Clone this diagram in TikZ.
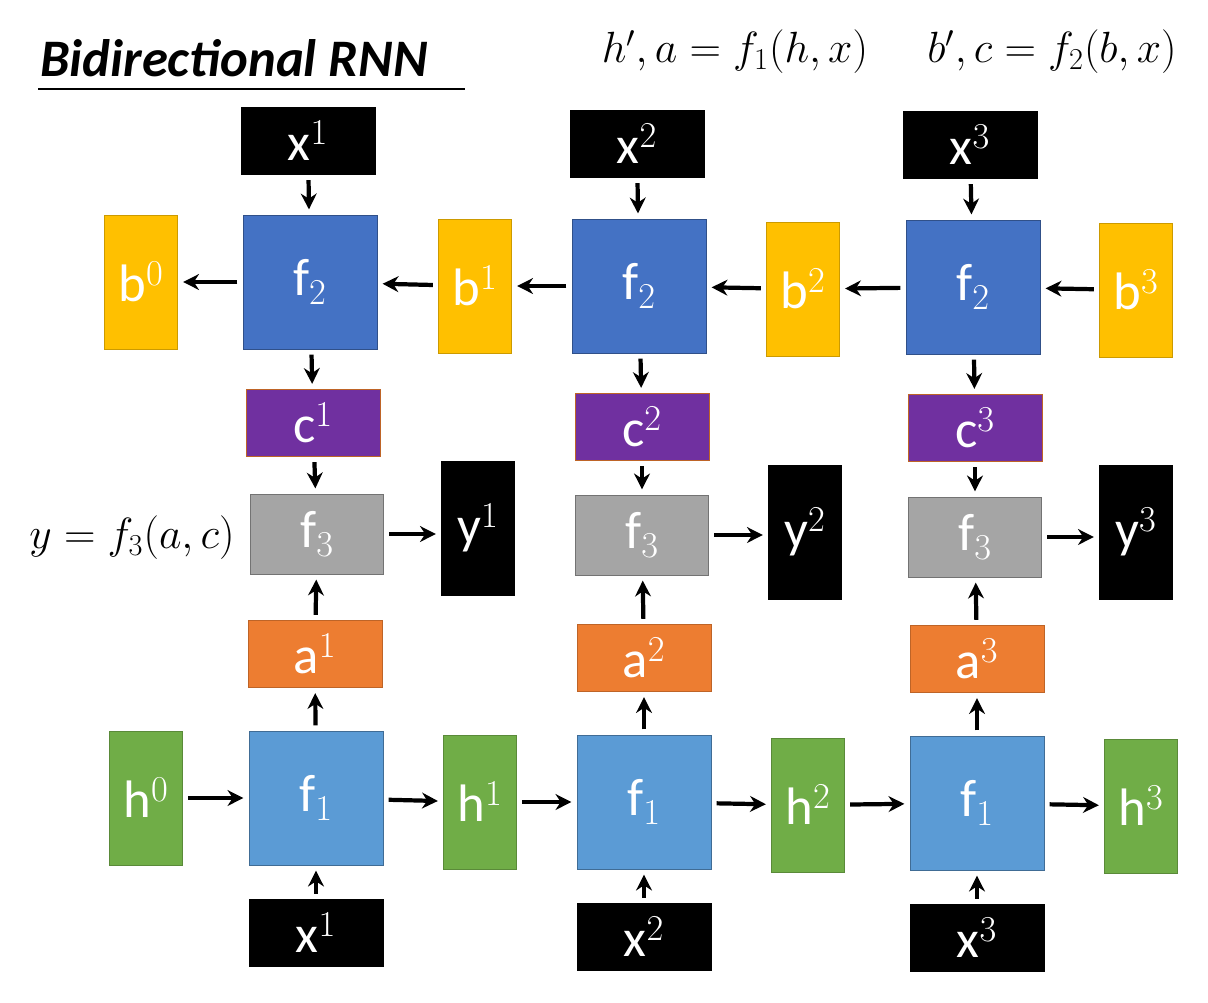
\documentclass[tikz,border=0pt]{standalone}
\usepackage{fontspec}
\setmainfont{Carlito}
\usepackage{amsmath}
\usepackage{tikz}
\usetikzlibrary{arrows.meta}
\definecolor{fblue}{HTML}{4472C4}
\definecolor{lblue}{HTML}{5B9BD5}
\definecolor{forange}{HTML}{ED7D31}
\definecolor{fpurple}{HTML}{7030A0}
\definecolor{fgray}{HTML}{A5A5A5}
\definecolor{fyellow}{HTML}{FFC000}
\definecolor{fgreen}{HTML}{70AD47}
\tikzset{box/.style={draw,text=white,inner sep=0pt,font=\fontsize{30}{36}\selectfont},
  big/.style={box,minimum width=2.68cm,minimum height=2.68cm},
  wide/.style={box,minimum width=2.68cm,minimum height=1.34cm},
  tall/.style={box,minimum width=1.46cm,minimum height=2.68cm},
  arr/.style={-{Stealth[length=9pt,width=9pt]},line width=2.4pt,shorten >=3pt,shorten <=3pt}}
\begin{document}
\begin{tikzpicture}[x=0.02cm,y=-0.02cm]
    \useasboundingbox (0,0) rectangle (1208,1002);
    % title and equations
    \node[anchor=west,font=\fontsize{30}{36}\selectfont\bfseries\itshape] (title) at (34,58) {Bidirectional RNN};
    \draw[line width=1.2pt] (38,89) -- (465,89);
    \node[font=\fontsize{24}{30}\selectfont] (eq1) at (735,52) {$h',a=f_1(h,x)$};
    \node[font=\fontsize{24}{30}\selectfont] (eq2) at (1052,52) {$b',c=f_2(b,x)$};
    \node[font=\fontsize{24}{30}\selectfont] (eq3) at (132,538) {$y=f_3(a,c)$};

    % backward layer
    \node[big,fill=fblue,draw=fblue!70!black] (fb1) at (310,282) {f$_2$};
    \node[big,fill=fblue,draw=fblue!70!black] (fb2) at (639,286) {f$_2$};
    \node[big,fill=fblue,draw=fblue!70!black] (fb3) at (973,287) {f$_2$};
    \node[wide,fill=black] (xt1) at (308,141) {x$^1$};
    \node[wide,fill=black] (xt2) at (637,144) {x$^2$};
    \node[wide,fill=black] (xt3) at (970,145) {x$^3$};
    \node[tall,fill=fyellow,draw=fyellow!80!black] (b0) at (141,282) {b$^0$};
    \node[tall,fill=fyellow,draw=fyellow!80!black] (b1) at (475,286) {b$^1$};
    \node[tall,fill=fyellow,draw=fyellow!80!black] (b2) at (803,289) {b$^2$};
    \node[tall,fill=fyellow,draw=fyellow!80!black] (b3) at (1136,290) {b$^3$};
    \node[wide,fill=fpurple,draw=forange!80!black] (c1) at (313,423) {c$^1$};
    \node[wide,fill=fpurple,draw=forange!80!black] (c2) at (642,427) {c$^2$};
    \node[wide,fill=fpurple,draw=forange!80!black] (c3) at (975,428) {c$^3$};

    % output layer
    \node[box,fill=fgray,draw=fgray!70!black,minimum width=2.66cm,minimum height=1.6cm] (f31) at (317,534) {f$_3$};
    \node[box,fill=fgray,draw=fgray!70!black,minimum width=2.66cm,minimum height=1.6cm] (f32) at (642,535) {f$_3$};
    \node[box,fill=fgray,draw=fgray!70!black,minimum width=2.66cm,minimum height=1.6cm] (f33) at (975,537) {f$_3$};
    \node[tall,fill=black] (y1) at (478,528) {y$^1$};
    \node[tall,fill=black] (y2) at (805,532) {y$^2$};
    \node[tall,fill=black] (y3) at (1136,532) {y$^3$};

    % forward layer
    \node[wide,fill=forange,draw=forange!80!black] (a1) at (315,654) {a$^1$};
    \node[wide,fill=forange,draw=forange!80!black] (a2) at (644,658) {a$^2$};
    \node[wide,fill=forange,draw=forange!80!black] (a3) at (977,659) {a$^3$};
    \node[big,fill=lblue,draw=lblue!70!black] (ff1) at (316,798) {f$_1$};
    \node[big,fill=lblue,draw=lblue!70!black] (ff2) at (644,802) {f$_1$};
    \node[big,fill=lblue,draw=lblue!70!black] (ff3) at (977,803) {f$_1$};
    \node[tall,fill=fgreen,draw=fgreen!80!black] (h0) at (146,798) {h$^0$};
    \node[tall,fill=fgreen,draw=fgreen!80!black] (h1) at (480,802) {h$^1$};
    \node[tall,fill=fgreen,draw=fgreen!80!black] (h2) at (808,805) {h$^2$};
    \node[tall,fill=fgreen,draw=fgreen!80!black] (h3) at (1141,806) {h$^3$};
    \node[wide,fill=black] (xb1) at (316,933) {x$^1$};
    \node[wide,fill=black] (xb2) at (644,937) {x$^2$};
    \node[wide,fill=black] (xb3) at (977,938) {x$^3$};

    \draw[arr] (xt1) -- (fb1);
    \draw[arr] (xt2) -- (fb2);
    \draw[arr] (xt3) -- (fb3);
    \draw[arr] (fb1) -- (b0);
    \draw[arr] (b1) -- (fb1);
    \draw[arr] (fb2) -- (b1);
    \draw[arr] (b2) -- (fb2);
    \draw[arr] (fb3) -- (b2);
    \draw[arr] (b3) -- (fb3);
    \draw[arr] (fb1) -- (c1);
    \draw[arr] (fb2) -- (c2);
    \draw[arr] (fb3) -- (c3);
    \draw[arr] (c1) -- (f31);
    \draw[arr] (c2) -- (f32);
    \draw[arr] (c3) -- (f33);
    \draw[arr] (f31) -- (f31 -| y1.west);
    \draw[arr] (f32) -- (f32 -| y2.west);
    \draw[arr] (f33) -- (f33 -| y3.west);
    \draw[arr] (a1) -- (f31);
    \draw[arr] (a2) -- (f32);
    \draw[arr] (a3) -- (f33);
    \draw[arr] (ff1) -- (a1);
    \draw[arr] (ff2) -- (a2);
    \draw[arr] (ff3) -- (a3);
    \draw[arr] (h0) -- (ff1);
    \draw[arr] (ff1) -- (h1);
    \draw[arr] (h1) -- (ff2);
    \draw[arr] (ff2) -- (h2);
    \draw[arr] (h2) -- (ff3);
    \draw[arr] (ff3) -- (h3);
    \draw[arr] (xb1) -- (ff1);
    \draw[arr] (xb2) -- (ff2);
    \draw[arr] (xb3) -- (ff3);
\end{tikzpicture}
\end{document}
